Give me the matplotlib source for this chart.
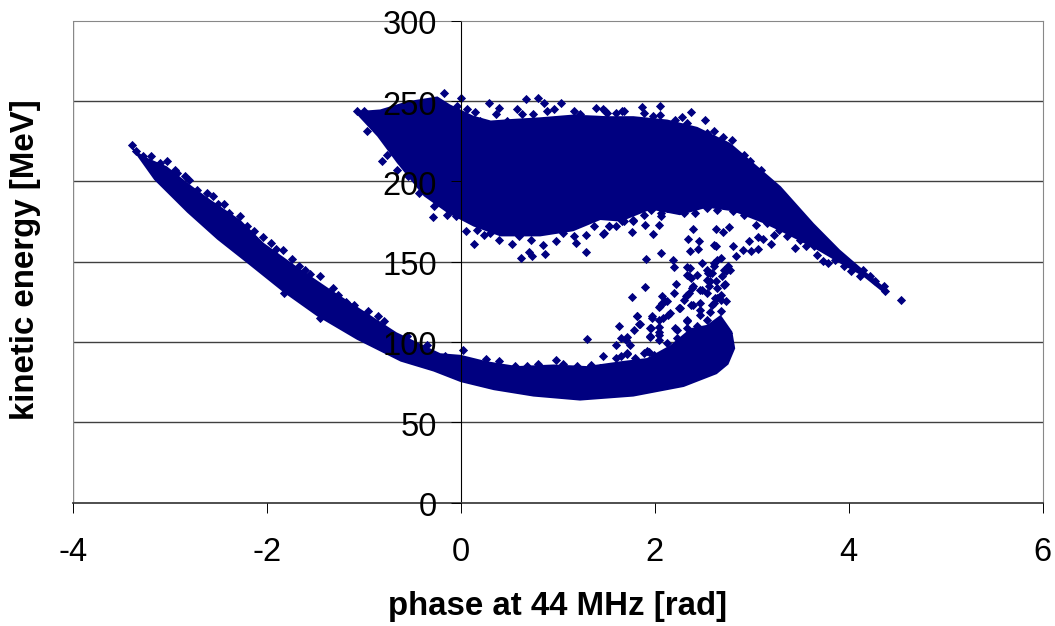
import matplotlib
matplotlib.use('Agg')
import matplotlib.pyplot as plt
from matplotlib.transforms import ScaledTranslation
import numpy as np

plt.rcParams['font.family'] = ['Liberation Sans', 'DejaVu Sans']
plt.rcParams['axes.unicode_minus'] = False

NAVY = '#000080'

x_ticks = [-4, -2, 0, 2, 4, 6]
y_ticks = [0, 50, 100, 150, 200, 250, 300]

# outline of the solid upper cloud (too dense to tell single points apart)
upper_top_x = [-1.07, -0.83, -0.55, -0.24, -0.11, 0.13, 0.31, 0.54, 0.82, 1.16, 1.51, 1.78,
               2.13, 2.44, 2.78, 3.06, 3.30, 3.64, 3.91, 4.15, 4.36]
upper_top_y = [243.8, 244.9, 250, 253, 248, 241, 238, 239, 240, 241.7, 240.7, 240.7,
               238.6, 234, 224, 209.5, 197, 174, 157.5, 145, 134.6]
upper_bot_x = [4.36, 4.15, 3.91, 3.67, 3.33, 3.12, 2.81, 2.54, 2.26, 1.96, 1.65, 1.44, 1.16,
               0.82, 0.41, 0.13, -0.14, -0.38, -0.66, -0.86, -1.07]
upper_bot_y = [130.6, 140.8, 149, 157.5, 168, 174, 181.4, 183.7, 179, 182.5, 175, 176, 169,
               165.8, 165.8, 172, 180.5, 190.8, 211.7, 228, 241.7]

# outline of the solid lower branch
lower_top_x = [-3.42, -3.27, -3.03, -2.79, -2.58, -2.27, -2.03, -1.69, -1.34, -0.965, -0.66,
               -0.21, 0.0, 0.27, 0.58, 0.96, 1.30, 1.65, 1.92, 2.16, 2.37, 2.54, 2.68, 2.80]
lower_top_y = [223, 215.7, 209.5, 198, 188.7, 176, 161.7, 147, 132.6, 118, 106,
               93, 92, 88, 85, 86, 85, 88, 90, 98, 108.6, 110.7, 116.9, 106.5]
lower_bot_x = [2.83, 2.76, 2.64, 2.30, 1.78, 1.23, 0.75, 0.34, 0.0, -0.28, -0.62, -1.07, -1.48,
               -1.82, -2.20, -2.51, -2.82, -3.16]
lower_bot_y = [96, 86, 80, 72, 66, 63.5, 66, 70, 75, 81.6, 87.8, 101.4, 116,
               130.6, 149, 163.8, 180.6, 201]

# single points read along the upper cloud's top edge
cloud_top = [(-1.07, 243.8), (-1.00, 243.8), (-0.97, 231.4), (-0.175, 255.3), (0.0, 252.2),
             (0.29, 248.6), (0.39, 245.9), (0.58, 244.9), (0.67, 251.1), (0.80, 252.2),
             (0.86, 249), (1.03, 248.6), (0.96, 244.9), (0.89, 243.8), (0.63, 241.8),
             (0.75, 241.8), (0.36, 241.8), (0.15, 243.4), (1.17, 243.8), (1.39, 245.9),
             (1.47, 244.9), (1.68, 243.8), (1.51, 242.8), (1.60, 242.8), (1.23, 241.8),
             (1.37, 237.6), (1.03, 237.6), (0.86, 237.6), (0.20, 237.6), (0.48, 237.6),
             (0.07, 244.9), (-0.04, 247), (1.49, 243.8), (1.66, 243.8), (1.87, 246.5),
             (2.05, 246.9), (1.89, 242.4), (2.05, 241.7), (2.37, 243.4), (2.52, 238.6),
             (2.21, 238.6), (2.33, 236.5), (2.61, 231.3), (2.54, 230.3), (2.80, 225.7),
             (2.92, 216.8), (2.70, 228), (2.98, 213), (3.10, 207), (1.98, 241), (2.28, 240)]

# single points read along the upper cloud's bottom edge
cloud_bottom = [(-0.81, 213), (-0.76, 216.8), (-0.66, 207.4), (-0.54, 203.3), (-0.43, 192.9),
                (-0.28, 184.6), (-0.285, 177.7), (-0.14, 179.4), (-0.05, 178.3), (0.05, 169),
                (0.17, 170), (0.24, 166.9), (0.135, 161.3), (0.40, 163.8), (0.53, 161.1),
                (0.62, 152.3), (0.70, 156.1), (0.73, 153.4), (0.87, 155), (0.85, 160.6),
                (0.72, 163.8), (0.98, 163.1), (1.17, 165.8), (1.19, 161.7), (1.29, 166.9),
                (1.29, 156.3), (1.475, 167.9), (1.53, 172.5), (1.77, 168.3), (1.37, 172.1),
                (1.68, 175.2), (1.78, 175.2), (1.53, 172.1), (1.47, 167.3), (1.90, 172.7),
                (1.98, 167.3), (2.04, 173.1), (2.07, 178.7), (2.13, 183.5), (1.78, 176.2),
                (1.66, 175.2), (2.30, 180.4), (1.89, 179.3), (1.96, 182.5), (2.07, 180.4),
                (2.14, 183.5), (2.25, 183.5), (2.42, 180.4), (2.54, 183.5), (2.64, 182.5),
                (2.81, 181.4), (2.92, 179.3), (0.30, 168), (0.60, 166), (1.05, 168), (1.60, 172)]

# tail running down to the right
tail = [(3.04, 173.1), (3.16, 174.1), (3.23, 166.9), (3.45, 158.5), (3.67, 154.4),
        (3.73, 150.2), (3.79, 149.2), (3.95, 147.1), (4.02, 144), (4.12, 140.9), (4.15, 145),
        (4.22, 140.9), (4.27, 137.7), (4.36, 134.6), (4.37, 131.5), (4.54, 126.1),
        (3.50, 163.7), (3.64, 159.6), (3.28, 170), (3.36, 166), (3.56, 160), (3.86, 151)]

# sparse points between the two branches
bridge = [(2.40, 170.4), (2.63, 170.4), (2.70, 168.3), (2.77, 171.8), (2.34, 164), (2.46, 162.7),
          (2.36, 156.9), (2.45, 157.9), (2.61, 160.6), (2.63, 159.6), (2.81, 159.6), (2.97, 163.1),
          (3.06, 165.2), (3.12, 164.2), (3.20, 161.0), (3.07, 157.9), (2.99, 156.5), (2.91, 157.1),
          (2.84, 153.3), (2.06, 155.4), (1.91, 151.7), (2.19, 151.3), (2.20, 146.7), (2.64, 151.3),
          (2.68, 152.3), (2.61, 149.2), (2.49, 149.2), (2.33, 146.5), (2.44, 141.9), (2.33, 141.9),
          (2.37, 139.8), (2.54, 145), (2.59, 142.9), (2.54, 138.8), (2.63, 137.7), (2.72, 136.3),
          (2.78, 145), (2.73, 144), (2.69, 140.9), (2.22, 136.1), (1.90, 134.4), (1.77, 127.8),
          (2.20, 130.5), (2.08, 128.4), (2.11, 125.3), (2.40, 134.6), (2.35, 130.5), (2.30, 126.3),
          (2.47, 132.5), (2.54, 130.5), (2.64, 127.3), (2.68, 126.3), (2.61, 124.2), (2.47, 124.2),
          (2.39, 123.2), (2.26, 121.1), (2.04, 122.1), (2.36, 146.1), (2.57, 143), (2.71, 135.7),
          (2.49, 132.6), (2.33, 129.5), (2.05, 122.6), (1.82, 116.2), (1.84, 111.4), (1.79, 107.2),
          (1.63, 109.7), (1.65, 102.4), (1.71, 102.9), (1.30, 101.8), (1.60, 98.3), (1.75, 98.3),
          (1.71, 92.7), (1.95, 103.5), (2.04, 104.5), (1.96, 108.7), (2.04, 109.3), (1.97, 114.9),
          (2.09, 114.9), (2.16, 118), (2.59, 123.2), (2.33, 113.9), (2.23, 107.6), (2.33, 108.7),
          (2.44, 109.7), (2.68, 119.1), (2.68, 109.7), (2.76, 105.6), (2.54, 113.9), (2.47, 120.1),
          (2.23, 102.4), (2.13, 99.3), (1.92, 94.1)]

# denser points in the loop where the branches nearly join
loop = [(2.76, 147.1), (2.61, 147.1), (2.35, 140.9), (2.55, 143), (2.57, 137.7), (2.71, 145),
        (2.38, 133.6), (2.32, 128.4), (2.64, 133.6), (2.56, 134.6), (2.08, 124.2), (2.13, 125.3),
        (2.37, 123.2), (2.62, 127.3), (1.82, 115.9), (1.85, 111.5), (1.97, 115.9), (1.95, 108.6),
        (2.04, 113.8), (2.14, 116.9), (2.25, 121.1), (2.33, 112.8), (2.47, 116.9), (2.57, 119),
        (2.21, 108.6), (2.04, 106.5), (1.95, 103.4), (2.04, 101.3), (1.70, 101.3), (1.71, 93),
        (1.94, 94), (1.89, 93), (1.99, 92), (1.80, 89.9), (1.65, 91), (2.68, 129.4), (2.73, 125.3)]

# bumps on the upper edge of the lower branch
branch_edge = [(-3.39, 223), (-3.35, 218.9), (-3.28, 215.8), (-3.19, 215.8), (-3.03, 212.6),
               (-3.10, 211.6), (-2.84, 203.3), (-2.80, 201.2), (-2.92, 205.4), (-2.72, 195),
               (-2.62, 192.9), (-2.55, 190.8), (-2.44, 186.2), (-2.39, 180.4), (-2.28, 178.7),
               (-2.13, 169), (-2.04, 165.2), (-1.96, 161.7), (-1.83, 157.5), (-1.74, 151.7),
               (-1.67, 147.1), (-1.55, 142.3), (-1.45, 141.3), (-1.32, 133.6), (-1.26, 129),
               (-1.18, 124.7), (-0.96, 119.4), (-0.79, 113.2), (-1.45, 114.9), (-1.82, 130.5),
               (1.47, 91), (0.98, 88.9), (0.26, 89.3), (0.02, 95.2), (-0.16, 91.4), (0.39, 87.9),
               (0.56, 85.2), (0.68, 85.2), (1.20, 85.2), (1.34, 85.8), (1.44, 83.7),
               (-1.10, 123), (-0.85, 116), (-0.55, 104), (-0.35, 98), (-2.95, 207), (-2.50, 186),
               (-2.20, 172), (-1.90, 158), (-1.60, 145), (0.80, 86), (1.05, 86), (1.60, 90)]

fig = plt.figure(figsize=(10.55, 6.26), dpi=100)
ax = fig.add_axes([72.7 / 1055, (626 - 502.5) / 626, 970 / 1055, 481.5 / 626])

for y in y_ticks[1:-1]:
    ax.axhline(y, color='#404040', lw=1, zorder=0.5)
ax.axvline(-4, color='#888888', lw=1, zorder=0.5)

ax.fill(upper_top_x + upper_bot_x, upper_top_y + upper_bot_y, color=NAVY, lw=0, zorder=1)
ax.fill(lower_top_x + lower_bot_x, lower_top_y + lower_bot_y, color=NAVY, lw=0, zorder=1)

for group in [cloud_top, cloud_bottom, tail, bridge, loop, branch_edge]:
    pts = np.array(group)
    ax.scatter(pts[:, 0], pts[:, 1], marker='D', s=22, color=NAVY, linewidths=0, zorder=1.5)

ax.set_xlim(-4, 6)
ax.set_ylim(0, 300)
ax.set_xticks(x_ticks)
ax.set_yticks(y_ticks)

ax.spines['left'].set_position(('data', 0))
ax.spines['left'].set_linewidth(0.8)
ax.spines['bottom'].set_color('#404040')
ax.spines['bottom'].set_linewidth(1.3)
ax.spines['top'].set_linewidth(0.8)
ax.spines['top'].set_color('#888888')
ax.spines['right'].set_linewidth(0.8)
ax.spines['right'].set_color('#888888')
ax.set_axisbelow(False)

ax.tick_params(axis='x', length=7.2, width=0.7, pad=17.5, labelsize=23.5)
ax.tick_params(axis='y', length=7.2, width=0.7, pad=10, labelsize=23.5)

# the y labels sit a little below their ticks
nudge = ScaledTranslation(0, -1 / 72, fig.dpi_scale_trans)
for label in ax.get_yticklabels():
    label.set_transform(label.get_transform() + nudge)

ax.set_xlabel('phase at 44 MHz [rad]', fontsize=23.8, fontweight='bold', labelpad=17)
ax.set_ylabel('kinetic energy [MeV]', fontsize=23.8, fontweight='bold')
ax.yaxis.set_label_coords(-0.033, 0.504)

fig.savefig('out.png', dpi=100)
